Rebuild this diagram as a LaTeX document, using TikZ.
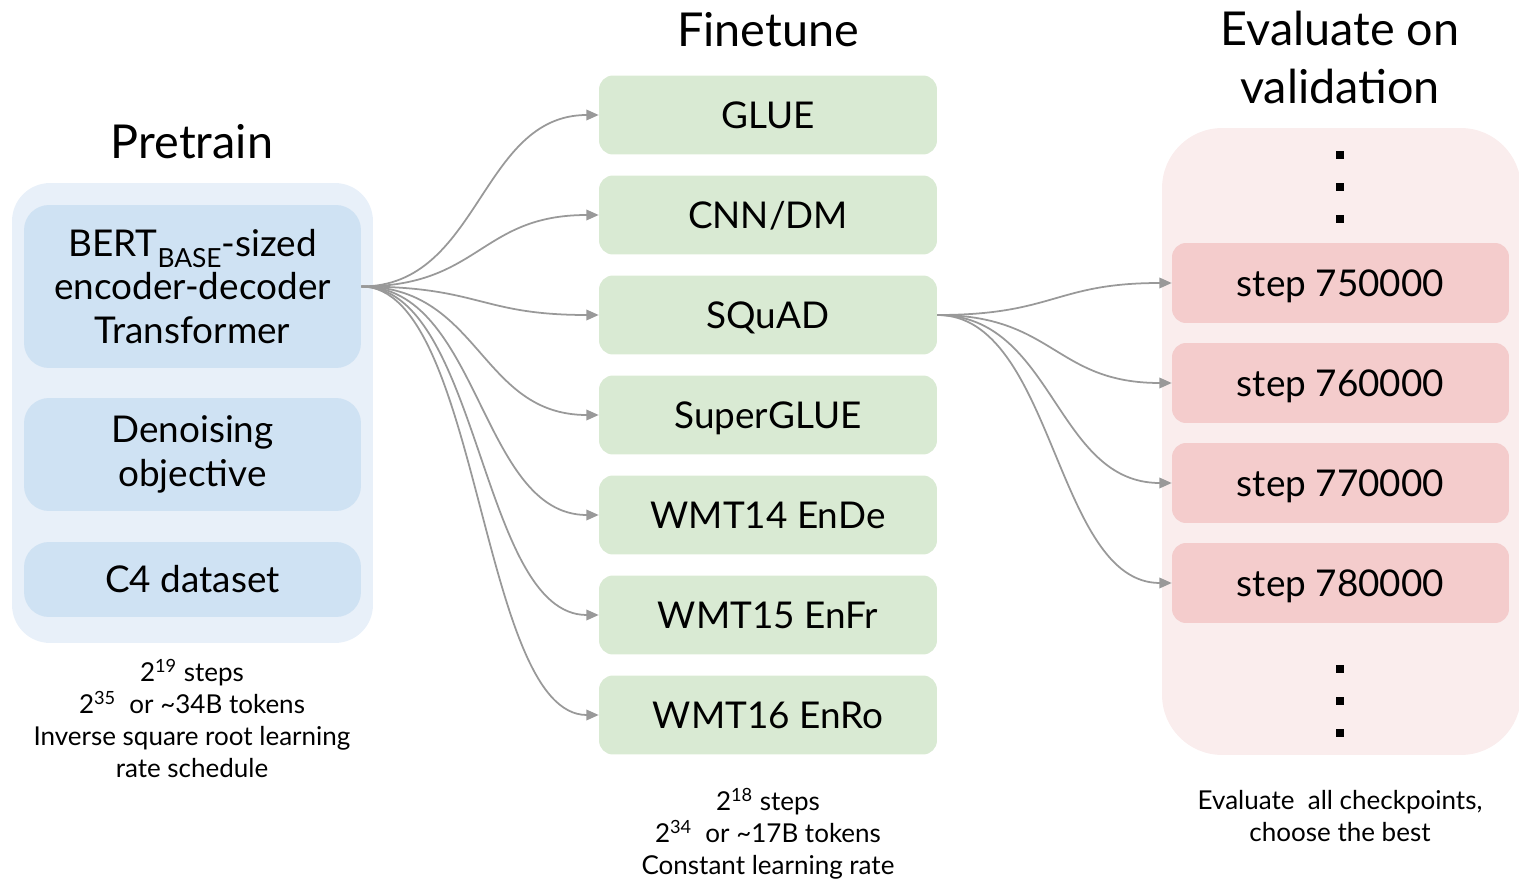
\documentclass[tikz,border=0pt]{standalone}
\usepackage{fontspec}
\setmainfont{Lato}
\usepackage{tikz}
\usetikzlibrary{arrows.meta}

\definecolor{pouter}{HTML}{E8F0F9}
\definecolor{pinner}{HTML}{CFE2F3}
\definecolor{fgreen}{HTML}{D9EAD3}
\definecolor{souter}{HTML}{FAEDED}
\definecolor{sinner}{HTML}{F4CCCC}
\definecolor{arrgray}{HTML}{999999}

\newcommand{\lowtext}[1]{\raisebox{-6.5pt}{\fontsize{15}{15}\selectfont #1}}

\begin{document}
\begin{tikzpicture}[x=0.02cm,y=-0.02cm,
	pcont/.style={fill=pouter, rounded corners=0.76cm, minimum width=7.22cm, minimum height=9.2cm},
	scont/.style={fill=souter, rounded corners=1.2cm, minimum width=7.18cm, minimum height=12.54cm},
	pitem/.style={fill=pinner, rounded corners=0.5cm, minimum width=6.74cm, align=center, inner sep=0pt, font=\fontsize{21}{25}\selectfont},
	fitem/.style={fill=fgreen, rounded corners=0.28cm, minimum width=6.76cm, minimum height=1.58cm, text depth=0pt, font=\fontsize{21}{25}\selectfont},
	sitem/.style={fill=sinner, rounded corners=0.28cm, minimum width=6.74cm, minimum height=1.6cm, text depth=0pt, font=\fontsize{21}{25}\selectfont},
	head/.style={anchor=north, align=center, inner sep=0pt, font=\fontsize{26.6}{32.6}\selectfont},
	foot/.style={anchor=north, align=center, inner sep=0pt, font=\fontsize{14.8}{18.1}\selectfont},
	dotsq/.style={fill=black, minimum size=0.16cm, inner sep=0pt},
	arrowline/.style={draw=arrgray, line width=1pt, -{Triangle[length=7pt,width=6pt]}}]
		\useasboundingbox (0,0) rectangle (1519,882);
		%%%nodes
		%pretrain
		\node[head] at (192,124) (TP){Pretrain};
		\node[pcont] at (192.5,413) (PBox){};
		\node[pitem, minimum height=3.26cm] at (192.5,286.5) (P1){BERT\lowtext{BASE}-sized\\encoder-decoder\\Transformer};
		\node[pitem, minimum height=2.26cm] at (192.5,454.5) (P2){Denoising\\objective};
		\node[pitem, minimum height=1.5cm] at (192.5,579.5) (P3){C4 dataset};
		\node[foot] at (192,659) (NP){2\textsuperscript{19} steps\\2\textsuperscript{35}\ \ or \textasciitilde34B tokens\\Inverse square root learning\\rate schedule};
		%finetune
		\node[head] at (768,12) (TF){Finetune};
		\node[fitem] at (768,115) (F1){GLUE};
		\node[fitem] at (768,215) (F2){CNN/DM};
		\node[fitem] at (768,315) (F3){SQuAD};
		\node[fitem] at (768,415) (F4){SuperGLUE};
		\node[fitem] at (768,515) (F5){WMT14 EnDe};
		\node[fitem] at (768,615) (F6){WMT15 EnFr};
		\node[fitem] at (768,715) (F7){WMT16 EnRo};
		\node[foot] at (768,788) (NF){2\textsuperscript{18} steps\\2\textsuperscript{34}\ \ or \textasciitilde17B tokens\\Constant learning rate};
		%evaluate
		\node[head] at (1340,11) (TS){Evaluate on\\validation};
		\node[scont] at (1341.5,441.5) (SBox){};
		\node[dotsq] at (1340,155) (D1){};
		\node[dotsq] at (1340,187) (D2){};
		\node[dotsq] at (1340,219) (D3){};
		\node[sitem] at (1340.5,283) (S1){step 750000};
		\node[sitem] at (1340.5,383) (S2){step 760000};
		\node[sitem] at (1340.5,483) (S3){step 770000};
		\node[sitem] at (1340.5,583) (S4){step 780000};
		\node[dotsq] at (1340,669) (D4){};
		\node[dotsq] at (1340,701) (D5){};
		\node[dotsq] at (1340,733) (D6){};
		\node[foot] at (1340,790) (NS){Evaluate\ \ all checkpoints,\\choose the best};
		%%%links
		%pretrain to finetune
		\draw[arrowline] (P1.east) .. controls +(119,0) and +(-119,0) .. (F1.west);
		\draw[arrowline] (P1.east) .. controls +(119,0) and +(-119,0) .. (F2.west);
		\draw[arrowline] (P1.east) .. controls +(119,0) and +(-119,0) .. (F3.west);
		\draw[arrowline] (P1.east) .. controls +(119,0) and +(-119,0) .. (F4.west);
		\draw[arrowline] (P1.east) .. controls +(119,0) and +(-119,0) .. (F5.west);
		\draw[arrowline] (P1.east) .. controls +(119,0) and +(-119,0) .. (F6.west);
		\draw[arrowline] (P1.east) .. controls +(119,0) and +(-119,0) .. (F7.west);
		%finetune to checkpoints
		\draw[arrowline] (F3.east) .. controls +(117,0) and +(-117,0) .. (S1.west);
		\draw[arrowline] (F3.east) .. controls +(117,0) and +(-117,0) .. (S2.west);
		\draw[arrowline] (F3.east) .. controls +(117,0) and +(-117,0) .. (S3.west);
		\draw[arrowline] (F3.east) .. controls +(117,0) and +(-117,0) .. (S4.west);
\end{tikzpicture}
\end{document}
